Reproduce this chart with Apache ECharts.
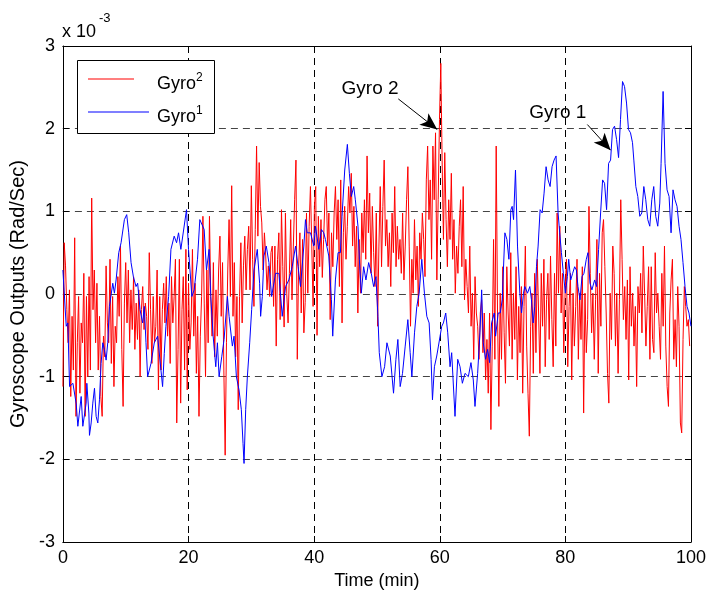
<!DOCTYPE html>
<html><head><meta charset="utf-8">
<script src="https://cdn.jsdelivr.net/npm/echarts@6/dist/echarts.min.js"></script>
<style>html,body{margin:0;padding:0;background:#fff}#c{width:709px;height:596px}</style>
</head><body><div id="c"></div>
<script>
// ---- data (values in units of 1e-3 rad/s) ----
const xTicks = {min: 0, max: 100, step: 20};
const yTicks = {min: -3, max: 3, step: 1};
const seriesNames = ['Gyro2', 'Gyro1'];

// Gyro 2 (red), three consecutive segments of evenly sampled readings
const red1 = [-1.12,0.62,0.34,-0.19,-0.59,0.05,-1.24,-0.27,-0.92,0.68,-1.48,-0.59,-0.03,-1.20,-0.35,-0.59,0.25,-1.48,-0.03,-1.00,0.21,-0.92,1.16,-0.19,0.29,-0.59,0.13,-0.92,-0.27,-1.24,-1.48,-0.51,-0.76,0.34,-0.35,-0.59,0.42,-0.84,-0.03,-1.12,-0.39,-0.59,0.21,-0.27,0.58,-0.67,-1.36,-0.11,0.38,-0.35,0.29,-0.59,0.05,-0.43,0.21,-0.67,-0.11,-0.55,0.05,-1.00,-0.19,0.09,-0.43,-0.11,-0.27,-0.67,0.50,-0.19,-0.84,-0.03,-0.59,-0.39,0.29,-1.16,-0.03,-0.92,-0.19,0.13,-0.35,0.21,-0.51,-0.11,-0.84,0.21,-0.35,-0.03,0.42,-1.56,-0.67,0.42,-1.32,-0.19,0.21,-0.92,0.54,-1.16,0.13,-0.67,-0.35,0.54,-0.51,0.13,-0.96,-0.27,-1.48,-0.51,-0.03,0.94,-0.11,-1.00,0.29,-0.59,0.94,-0.03,-0.51,0.38,-0.76,0.05,-0.51,0.29,0.70,-0.27,0.38,-0.92,-1.95,-0.59,0.29,0.90,-0.03,1.31,-0.27,0.38,-0.76,-0.03,-1.40,-0.03,0.62,-0.35,0.34,0.70,0.05,0.54,0.82,0.05,1.31,0.42,-0.15,0.78,1.79,0.70,1.59,1.06,0.86,0.29,0.74,0.46,0.05,0.34,-0.03,0.50];
const red2 = [0.58,-0.15,0.58,-0.63,0.42,0.74,-0.31,1.02,0.33,-0.40,0.98,0.01,-0.35,0.25,0.90,-0.07,0.58,1.14,1.62,-0.79,0.33,0.74,-0.23,0.66,-0.47,-0.10,0.98,0.01,0.82,1.30,0.58,-0.15,1.06,1.30,-0.50,0.94,0.33,0.90,0.20,0.66,1.14,1.30,0.58,0.98,-0.31,0.74,0.33,0.98,1.30,0.66,1.14,0.09,1.38,-0.35,0.74,1.06,0.42,0.82,1.30,0.98,1.46,0.58,1.06,0.33,0.82,-0.23,0.66,0.01,0.98,0.50,1.14,0.42,1.67,0.74,1.22,0.25,1.06,0.50,0.09,0.98,-0.39,0.58,1.30,0.33,1.06,1.62,0.58,0.90,0.33,0.74,0.09,0.98,0.50,1.30,0.33,0.82,0.42,0.66,0.25,0.98,0.17,0.58,1.14,1.54,0.58,-0.39,0.42,0.01,0.90,0.17,0.58,-0.15,0.74,0.42,0.98,0.66,0.21,1.38,1.79,0.90,1.38,0.42,1.79,1.14,1.95,0.17,1.14,2.11,2.79,1.62,0.66,1.71,0.90,0.33,1.14,0.66,1.46,0.42,0.90,0.01,0.58,0.25,0.82,1.14,0.33,1.30,-0.07,0.42,0.09,-0.23,0.58,-0.39,0.01,-0.79,0.21,-0.23,-0.39,-0.79,-0.23];
const red3 = [-0.07,-0.71,-0.23,-1.04,-0.55,-1.20,-0.23,-1.64,-0.63,0.66,-0.79,1.79,-0.23,-1.36,0.01,-0.79,0.33,-0.47,-1.08,0.33,-0.23,-0.63,0.50,-0.79,0.01,-0.55,0.33,-1.04,-0.15,-0.71,0.09,-1.20,-0.15,0.58,-0.63,-1.20,-1.72,-0.39,0.01,-0.96,0.25,-0.71,0.42,-0.23,-0.96,0.25,-0.39,0.42,-0.88,-0.07,0.25,-0.55,0.46,-0.31,-0.88,0.25,-0.63,0.98,0.01,0.82,-0.23,0.25,-0.71,0.01,0.42,-0.88,-0.15,0.25,-1.04,0.01,-0.63,-0.15,0.42,-0.79,0.01,-0.55,0.33,-1.44,0.01,-0.71,-0.31,1.06,0.25,-0.47,0.01,-0.79,-0.07,0.66,-0.96,0.25,-0.39,0.74,0.90,0.33,-0.23,-0.96,-1.32,0.01,-0.55,0.58,0.25,-0.63,0.01,-0.96,-0.07,1.14,0.42,-0.31,0.09,-0.55,0.17,-1.04,0.33,-0.39,0.01,-0.63,-0.15,-1.12,0.09,-0.23,0.25,-0.47,0.58,0.01,-0.63,-0.15,0.33,-0.79,0.33,-0.55,-0.71,0.50,-0.23,0.01,-0.39,-0.79,0.25,-0.39,0.58,-0.63,-1.12,-1.36,-0.23,0.17,0.42,-0.79,-0.31,-0.88,0.09,-0.39,-1.56,-1.68,-0.55,0.09,-0.15,-0.39,-0.31,-0.63];

// Gyro 1 (blue), [time (min), value] readings
const blue1 = [[0,0.29],[0.53,-0.39],[0.79,-0.35],[1.06,-1.12],[1.59,-1.08],[2.12,-1.33],[2.38,-1.60],[2.91,-1.24],[3.17,-1.60],[3.70,-1.32],[3.81,-1.08],[4.13,-1.44],[4.23,-1.71],[4.50,-1.56],[4.76,-1.32],[5.03,-1.14],[5.29,-1.48],[5.56,-1.56],[5.82,-1.28],[6.08,-0.84],[6.35,-0.59],[6.61,-0.67],[6.88,-0.80],[7.14,-0.59],[7.41,-0.15],[7.94,0.13],[8.20,0.01],[8.47,0.17],[8.89,0.50],[9.26,0.62],[9.79,0.90],[10.16,0.96],[10.48,0.74],[10.85,0.38],[11.22,0.21],[11.64,0.09],[11.90,0.13],[12.28,-0.19],[12.70,-0.35],[12.96,-0.15],[13.23,-0.59],[13.49,-1.00],[13.76,-0.92],[14.02,-0.84],[14.55,-0.59],[15.08,-0.51],[15.61,-0.92],[15.87,-1.12],[16.14,-0.72],[16.40,-0.39],[16.83,-0.03],[17.20,0.54],[17.72,0.70],[18.10,0.62],[18.41,0.74],[18.78,0.54],[19.68,1.02],[20.00,0.54],[20.53,-0.03],[20.90,0.05],[21.43,0.42],[21.80,0.90],[22.49,0.78],[22.86,0.29],[23.28,0.54],[23.54,-0.03],[23.92,-0.51],[24.34,-0.88],[24.60,-0.59],[24.87,-1.00],[25.29,-0.76],[25.66,-0.55],[26.19,-0.03],[26.46,-0.27],[26.98,-0.63],[27.25,-0.51],[27.62,-1.00],[28.04,-1.16],[28.41,-1.40],[28.68,-1.81],[28.84,-2.05],[29.10,-1.40],[29.37,-1.00],[29.74,-0.59],[30.05,-0.19],[30.42,0.29],[30.95,0.54],[31.32,0.13],[31.48,-0.27],[31.75,-0.03],[32.01,0.46],[32.38,0.58],[32.80,0.38],[33.23,-0.03]];
const blue2 = [[33.86,0.25],[34.39,0.25],[34.92,-0.27],[35.45,0.09],[35.98,0.17],[36.51,0.33],[37.04,0.58],[37.30,0.58],[37.83,0.09],[38.36,0.58],[38.62,0.90],[38.89,0.74],[39.42,0.74],[39.95,0.58],[40.21,0.82],[40.74,0.54],[41.16,0.78],[41.53,0.74],[41.80,0.66],[42.33,0.46],[42.75,-0.07],[42.96,-0.51],[43.39,0.17],[43.81,0.50],[44.18,0.50],[44.44,0.94],[44.87,1.50],[45.29,1.81],[45.61,1.46],[45.92,1.18],[46.30,1.30],[46.56,1.14],[46.98,0.82],[47.20,0.42],[47.51,0.01],[47.88,0.33],[48.25,0.17],[48.68,0.38],[49.10,0.25],[49.47,0.09],[49.84,0.21],[50.16,-0.27],[50.37,-0.71],[50.79,-1.00],[51.22,-0.88],[51.59,-0.59],[52.12,-0.75],[52.64,-1.20],[53.02,-0.79],[53.33,-0.55],[53.70,-1.12],[54.07,-0.96],[54.50,-0.63],[54.92,-0.31],[55.29,-0.71],[55.56,-1.00],[55.98,-0.47],[56.35,-0.15],[56.72,0.01],[57.14,0.42],[57.56,0.01],[57.94,-0.27],[58.31,-0.35],[58.62,-0.79],[58.84,-1.28],[59.15,-0.88],[59.52,-0.75],[59.79,-0.63],[60.05,-0.51],[60.32,-0.39],[60.58,-0.35],[60.95,-0.23],[61.27,-0.47],[61.64,-0.88],[61.90,-0.71],[62.43,-1.48],[62.86,-0.79],[63.23,-0.88],[63.60,-1.08],[64.02,-0.96],[64.55,-1.00],[64.97,-0.83],[65.34,-1.04],[65.61,-1.36],[66.03,-0.96],[66.40,-0.47]];
const blue3 = [[66.67,0.05],[66.93,-0.59],[67.30,-0.79],[67.62,-0.67],[67.94,-0.83],[68.25,-0.35],[68.68,-0.23],[68.89,-0.51],[69.31,-0.23],[69.63,-0.23],[69.95,-0.07],[70.37,0.74],[70.69,0.66],[71.01,0.42],[71.32,1.02],[71.53,1.06],[71.75,0.90],[72.06,1.50],[72.38,0.58],[72.75,0.01],[73.02,-0.23],[73.33,0.01],[73.55,0.09],[73.97,0.01],[74.34,0.09],[74.60,-0.07],[74.87,-0.35],[75.13,-0.15],[75.40,0.33],[75.66,0.58],[75.98,1.02],[76.30,0.98],[76.61,1.22],[76.93,1.54],[77.25,1.38],[77.57,1.30],[77.88,1.54],[78.20,1.62],[78.52,1.67],[78.84,0.98],[79.10,0.74],[79.37,0.50],[79.68,0.25],[80.00,0.01],[80.32,0.21],[80.53,0.42],[80.85,0.17],[81.16,0.25],[81.48,0.33],[81.75,0.29],[82.01,0.09],[82.33,-0.07],[82.65,0.21],[82.96,0.25],[83.33,0.42],[83.60,0.50],[83.92,0.13],[84.23,0.05],[84.66,0.17],[84.97,0.09],[85.29,0.54],[85.61,0.98],[85.93,1.38],[86.24,1.34],[86.56,1.02],[86.88,1.58],[87.20,1.62],[87.51,1.99],[87.83,2.03],[88.15,1.87],[88.47,1.65],[88.78,2.11],[89.10,2.57],[89.42,2.51],[89.74,2.31],[90.05,1.99],[90.37,1.95],[90.69,1.83],[90.90,1.62],[91.22,1.30],[91.53,1.18],[91.85,0.94],[92.17,0.98],[92.49,1.30],[92.80,1.14],[93.12,0.90],[93.44,0.82],[93.76,1.14],[94.07,1.30],[94.39,0.94],[94.71,0.82],[95.03,1.10],[95.24,1.58],[95.56,2.45],[95.87,1.58],[96.19,1.26],[96.51,1.18],[96.83,0.74],[97.14,1.26],[97.46,1.14],[97.78,1.06],[98.10,0.82],[98.41,0.66],[98.73,0.38],[99.05,0.09],[99.37,-0.15],[99.68,-0.23],[100.00,-0.39]];

// annotations (data coordinates)
const annoText = ['Gyro 2', 'Gyro 1'];
const annoTextAt = [[48.9, 2.48], [78.8, 2.19]];
const arrowFrom = [[53.4, 2.36], [83.5, 2.05]];
const arrowTo = [[59.6, 1.99], [87.2, 1.74]];

// ---- build ----
const FONT = '"Liberation Sans", Arial, Helvetica, sans-serif';
const SEG = 100 / 3;
function seg(vals, t0) { return vals.map((v, i) => [t0 + i * SEG / vals.length, v]); }
const redData = seg(red1, 0).concat(seg(red2, SEG), seg(red3, 2 * SEG));
const blueData = blue1.concat(blue2, blue3);

const legendRich = {
  g: {fontSize: 18, fontFamily: FONT, color: '#000', lineHeight: 31, padding: [11, 0, 0, 0]},
  s: {fontSize: 12, fontFamily: FONT, color: '#000', lineHeight: 31, padding: [0, 0, 3, 0]}
};

function axisCommon(extra) {
  return Object.assign({
    type: 'value',
    axisLine: {show: true, onZero: false, lineStyle: {color: '#000', width: 1}},
    axisTick: {show: true, inside: true, length: 6, lineStyle: {color: '#000', width: 1}},
  }, extra);
}

const chart = echarts.init(document.getElementById('c'), null, {renderer: 'canvas'});
const option = {
  animation: false,
  backgroundColor: '#fff',
  grid: {left: 62, right: 17, top: 46, bottom: 54},
  xAxis: [
    axisCommon({min: xTicks.min, max: xTicks.max, interval: xTicks.step, position: 'bottom',
      name: 'Time (min)', nameLocation: 'middle', nameGap: 29,
      nameTextStyle: {fontSize: 18, color: '#000', fontFamily: FONT},
      axisLabel: {margin: 7, fontSize: 18, color: '#000', fontFamily: FONT},
      splitLine: {show: true, lineStyle: {color: '#000', width: 1, type: [7, 5]}}}),
    axisCommon({min: xTicks.min, max: xTicks.max, interval: xTicks.step, position: 'top',
      axisLabel: {show: false}, splitLine: {show: false}})
  ],
  yAxis: [
    axisCommon({min: yTicks.min, max: yTicks.max, interval: yTicks.step, position: 'left',
      name: 'Gyroscope Outputs (Rad/Sec)', nameLocation: 'middle', nameGap: 31,
      nameTextStyle: {fontSize: 20, color: '#000', fontFamily: FONT},
      axisLabel: {margin: 8, fontSize: 18, color: '#000', fontFamily: FONT},
      splitLine: {show: true, lineStyle: {color: '#444', width: 1, type: [7, 5]}}}),
    axisCommon({min: yTicks.min, max: yTicks.max, interval: yTicks.step, position: 'right',
      axisLabel: {show: false}, splitLine: {show: false}})
  ],
  legend: [
    {data: [seriesNames[0]], left: 88, top: 64.5, padding: 0, icon: 'rect', itemWidth: 46, itemHeight: 1, z: 20,
     formatter: n => '{g|Gyro}{s|' + n.slice(4) + '}',
     textStyle: {padding: [0, 0, 0, 18], rich: legendRich}},
    {data: [seriesNames[1]], left: 88, top: 97.5, padding: 0, icon: 'rect', itemWidth: 61, itemHeight: 1, z: 20,
     formatter: n => '{g|Gyro}{s|' + n.slice(4) + '}',
     textStyle: {padding: [0, 0, 0, 3], rich: legendRich}}
  ],
  graphic: [
    {type: 'rect', z: 10, shape: {x: 77.5, y: 60.5, width: 137, height: 73},
     style: {fill: '#fff', stroke: '#000', lineWidth: 1}},
    {type: 'text', left: 62, top: 23, style: {text: 'x 10', fontSize: 18, fontFamily: FONT, fill: '#000'}},
    {type: 'text', left: 99, top: 12, style: {text: '-3', fontSize: 13, fontFamily: FONT, fill: '#000'}}
  ],
  series: [
    {name: seriesNames[0], type: 'line', data: redData, symbol: 'none', sampling: null, z: 2,
     lineStyle: {color: '#ff0000', width: 1}, itemStyle: {color: '#ff0000'}},
    {name: seriesNames[1], type: 'line', data: blueData, symbol: 'none', z: 3,
     lineStyle: {color: '#0000ff', width: 1}, itemStyle: {color: '#0000ff'},
     markLine: {silent: true, symbol: ['none', 'arrow'], symbolSize: [11, 17],
       lineStyle: {color: '#000', width: 1, type: 'solid'}, label: {show: false},
       emphasis: {disabled: true},
       data: arrowFrom.map((f, i) => [{coord: f}, {coord: arrowTo[i]}])},
     markPoint: {silent: true, symbol: 'circle', symbolSize: 0,
       label: {show: true, position: 'inside', color: '#000', fontSize: 19, fontFamily: FONT,
               formatter: p => p.name},
       data: annoText.map((t, i) => ({name: t, coord: annoTextAt[i]}))}}
  ]
};
chart.setOption(option);
</script>
</body></html>
